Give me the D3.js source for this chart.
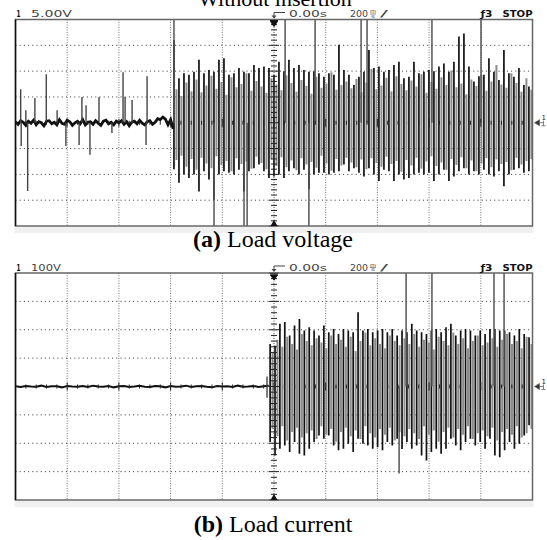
<!DOCTYPE html>
<html>
<head>
<meta charset="utf-8">
<script src="https://cdn.jsdelivr.net/npm/d3@7"></script>
<style>
  body { margin: 0; background: #fff; }
  svg { display: block; }
</style>
</head>
<body>
<div id="chart"></div>
<script>
// Oscilloscope captures: load voltage / load current, "without insertion"
// time axis in ms (200 ms/div, 10 div), trigger at 0

// ---- voltage trace (5 V/div) ----
// baseline noise before the burst, one sample every 10 ms from -1000 ms
const voltageNoise = [
  0.2, -0.3, 0.4, 0.1, -0.5, 0.3, -0.1, 0.5, -0.4, 0.2,
  0.0, -0.6, 0.3, 0.4, -0.2, 0.1, -0.4, 0.6, -0.1, -0.3,
  0.5, 0.2, -0.5, 0.0, 0.3, -0.2, 0.6, -0.4, 0.1, 0.2,
  -0.3, 0.4, -0.1, -0.5, 0.3, 0.5, -0.2, 0.1, -0.4, 0.3,
  0.0, 0.4, -0.3, 0.2, -0.6, 0.1, 0.3, -0.2, 0.5, -0.1,
  -0.4, 0.2, 0.4, -0.3, 0.1, 0.8, 0.6, 1.1, 0.7, -0.4,
  0.6, -1.2
];
// isolated spikes before the burst [ms, V]
const voltageSpikes = [
  [-980, 6.5], [-978, -4.5], [-960, 2.4], [-953, -13.2], [-925, 4.8],
  [-881, 9.4], [-839, 2.4], [-805, -4.5], [-754, -4.3], [-743, 5.0],
  [-727, 3.4], [-712, -6.2], [-677, 5.0], [-627, -2.0], [-584, 9.8],
  [-576, 5.0], [-549, 4.4], [-495, -4.3], [-491, 9.0]
];
// burst: one cycle every 19.34 ms starting at -387 ms
const voltageMax = [
  16.0, 8.6, 9.6, 9.3, 9.9, 12.2, 9.6, 10.2, 9.9, 12.2,
  12.5, 9.3, 9.6, 10.6, 9.9, 9.6, 11.2, 10.6, 10.9, 10.6,
  9.3, 11.8, 10.0, 12.2, 10.6, 11.2, 10.2, 9.9, 10.0, 9.6,
  8.9, 9.6, 9.3, 15.1, 10.2,
  9.3, 7.3, 8.9, 9.9, 14.1, 10.6, 10.9, 9.9, 10.2, 11.2,
  11.8, 8.6, 8.9, 11.8, 9.6, 9.9, 10.2, 10.0, 10.9, 11.5,
  9.9, 11.8, 16.7, 17.3, 10.9, 8.0, 9.0, 9.3, 12.5, 9.9,
  8.3, 14.1, 9.6, 8.9, 10.6, 7.3, 7.0
];
const voltageMin = [
  -9.0, -11.6, -10.0, -10.7, -10.0, -13.3, -9.4, -11.0, -14.9, -10.0,
  -9.4, -9.7, -10.0, -9.1, -13.3, -9.4, -8.8, -8.1, -9.4, -10.7,
  -10.4, -10.0, -10.7, -9.4, -8.8, -10.0, -9.1, -12.9, -10.0, -9.7,
  -9.7, -10.0, -9.7, -9.4, -8.1,
  -9.4, -8.8, -9.7, -10.4, -8.8, -10.0, -11.3, -9.1, -9.4, -11.3,
  -10.0, -11.0, -10.7, -10.0, -9.7, -10.0, -9.7, -11.3, -10.0, -9.1,
  -11.3, -10.4, -9.4, -8.8, -10.0, -9.4, -10.0, -9.1, -10.0, -10.4,
  -9.4, -12.3, -10.0, -9.1, -8.8, -9.7, -9.4
];
// the lighter half-cycle strokes between the dark ones
const voltageGrayMax = [
  6.5, 5.2, 7.8, 6.1, 8.4, 5.9, 7.2, 9.1, 6.6, 7.9,
  5.4, 8.8, 6.9, 7.5, 9.6, 6.2, 8.1, 7.0, 5.8, 8.6,
  7.4, 6.3, 9.2, 7.7, 6.0, 8.3, 7.1, 5.6, 8.9, 6.8,
  7.6, 9.8, 6.4, 7.3, 8.0, 6.7,
  8.5, 5.9, 7.8, 10.4, 6.5, 7.2, 8.7, 6.1, 9.0, 7.5,
  6.3, 8.2, 7.0, 9.4, 5.8, 7.9, 6.6, 8.8, 7.3, 10.1,
  6.9, 7.6, 5.5, 8.4, 7.1, 9.3, 6.2, 8.0, 11.2, 7.4,
  6.8, 9.6, 7.7, 6.0, 8.6, 6.4
];
const voltageGrayMin = [
  -7.2, -6.4, -8.5, -7.0, -9.1, -6.8, -7.9, -8.8, -6.5, -8.2,
  -7.4, -9.4, -6.9, -8.0, -7.5, -8.9, -6.6, -7.8, -9.0, -7.1,
  -8.4, -6.7, -8.6, -7.3, -9.2, -6.9, -8.1, -7.6, -8.7, -6.4,
  -7.9, -9.3, -7.0, -8.3, -6.8, -7.7,
  -8.6, -7.1, -9.0, -6.9, -7.8, -8.5, -6.6, -8.0, -7.4, -9.5,
  -7.2, -8.3, -6.8, -8.9, -7.5, -6.5, -8.4, -7.7, -9.1, -7.0,
  -8.2, -6.7, -8.8, -7.3, -9.4, -7.9, -6.9, -8.6, -7.1, -8.0,
  -7.6, -9.2, -6.8, -8.1, -7.4, -7.0
];
// spikes that run off screen (ms)
const voltageOffTop = [-387, 43, 159, 337, 360, 611, 801];
const voltageOffBottom = [-232, -116, -104, 135];

// ---- current trace (100 V/div as labelled on the scope) ----
// baseline noise, one sample every 20 ms from -1000 ms
const currentNoise = [
  1, -2, 2, 0, -1, 3, -2, 1, 1, -3,
  2, 0, -1, 2, -2, 3, 0, -1, 2, -3,
  1, 2, -2, 0, 3, -1, -2, 2, 1, -3,
  2, -1, 0, 3, -2, 1, 2, -1, -3, 2,
  0, 1, -2, 3, -1, 0, 2, -2, 1, 3
];
const currentSpikes = [[-27, 35], [-27, -40]];
// burst: one cycle every 18.9 ms starting at -15 ms
const currentMax = [
  150, 144, 221, 227, 180, 215, 238, 197, 209, 197,
  180, 215, 191, 203, 185, 203, 197, 191, 262, 197,
  203, 191, 197, 203, 191, 203, 180,
  197, 191, 221, 197, 191, 185, 197, 203, 191, 209,
  221, 180, 197, 203, 197, 180, 197, 185, 203, 203,
  197, 197, 191, 180, 203, 185, 174
];
const currentMin = [
  -196, -243, -219, -208, -231, -196, -237, -243, -219, -196,
  -173, -184, -173, -208, -225, -219, -202, -231, -184, -202,
  -208, -219, -214, -225, -196, -208, -184,
  -220, -196, -219, -208, -243, -261, -231, -219, -237, -219,
  -184, -208, -225, -196, -184, -208, -196, -219, -184, -243,
  -249, -225, -196, -219, -202, -173, -137
];
const currentGrayMax = [
  120, 165, 140, 175, 150, 130, 185, 160, 145, 170,
  155, 135, 180, 150, 165, 140, 175, 125, 160, 190,
  145, 170, 150, 135, 180, 160, 145,
  170, 150, 185, 140, 165, 155, 130, 175, 160, 145,
  190, 150, 170, 135, 160, 180, 145, 155, 170, 140,
  165, 185, 150, 160, 135, 175, 150
];
const currentGrayMin = [
  -150, -175, -140, -190, -160, -145, -180, -165, -155, -185,
  -140, -170, -150, -195, -160, -145, -175, -155, -185, -140,
  -165, -180, -150, -170, -145, -190, -160,
  -175, -150, -165, -185, -140, -170, -155, -195, -160, -145,
  -180, -150, -170, -140, -185, -165, -155, -175, -145, -190,
  -160, -150, -170, -140, -180, -165, -150
];
const currentOffTop = [511, 611, 851, 890];
const currentLongDown = [[484, -307]];

// ---- text ----
const titleText = 'Without insertion';
const timeLabel = '0.00s';
const timeBase = '200';

const width = 547;
const height = 540;

const svg = d3.select('#chart')
  .append('svg')
  .attr('width', width)
  .attr('height', height);

const x = d3.scaleLinear().domain([-1000, 1000]).range([15.5, 532.5]);

const SCOPE = '"DejaVu Sans", sans-serif';
const SERIF = '"Liberation Serif", "Times New Roman", serif';

// title, top half cut by the page edge (as in the source figure)
svg.append('text')
  .attr('x', 275).attr('y', 5.5)
  .attr('text-anchor', 'middle')
  .attr('font-family', SERIF)
  .attr('font-size', 22)
  .text(titleText);

// small helper for the stretched scope lettering
function scopeText(g, x0, y0, str, len, opts = {}) {
  return g.append('text')
    .attr('x', x0).attr('y', y0)
    .attr('font-family', SCOPE)
    .attr('font-size', opts.size || 8)
    .attr('font-weight', opts.bold ? 'bold' : 'normal')
    .attr('fill', opts.bold ? '#111' : '#444')
    .attr('textLength', len)
    .attr('lengthAdjust', 'spacingAndGlyphs')
    .text(str);
}

/**
 * Draws one scope screen
 */
function drawPanel(opts) {
  const { id, top, bottom, vmax } = opts;
  const y = d3.scaleLinear().domain([-vmax, vmax]).range([bottom, top]);
  const g = svg.append('g');
  const x0 = x.range()[0], x1 = x.range()[1];

  // light strip under the screen
  g.append('rect')
    .attr('x', x0 - 1).attr('y', bottom + 1)
    .attr('width', x1 - x0 + 2).attr('height', 6)
    .attr('fill', '#f0f0f0');

  // grid
  const vTicks = d3.range(-800, 801, 200).filter(d => d !== 0);
  g.append('g').selectAll('line')
    .data(vTicks)
    .join('line')
    .attr('x1', d => x(d)).attr('x2', d => x(d))
    .attr('y1', top).attr('y2', bottom)
    .attr('stroke', '#777')
    .attr('stroke-width', 1)
    .attr('stroke-dasharray', '1,1.5');

  const hTicks = d3.range(-3, 4).filter(d => d !== 0).map(d => d * vmax / 4);
  g.append('g').selectAll('line')
    .data(hTicks)
    .join('line')
    .attr('x1', x0).attr('x2', x1)
    .attr('y1', d => y(d)).attr('y2', d => y(d))
    .attr('stroke', '#333')
    .attr('stroke-width', 1)
    .attr('stroke-dasharray', '1,3.2');

  // clip waveform to the screen
  g.append('clipPath').attr('id', id)
    .append('rect')
    .attr('x', x0).attr('y', top)
    .attr('width', x1 - x0).attr('height', bottom - top);

  const w = g.append('g').attr('clip-path', `url(#${id})`);

  // baseline noise
  const line = d3.line()
    .x(d => x(d[0]))
    .y(d => y(d[1]));
  const noisePts = opts.noise.map((v, i) => [-1000 + i * opts.noiseStep, v]);
  w.append('path')
    .attr('d', line(noisePts))
    .attr('fill', 'none')
    .attr('stroke', '#111')
    .attr('stroke-width', opts.noiseWidth);

  // isolated spikes
  w.append('g').selectAll('line')
    .data(opts.spikes)
    .join('line')
    .attr('x1', d => x(d[0])).attr('x2', d => x(d[0]))
    .attr('y1', y(0)).attr('y2', d => y(d[1]))
    .attr('stroke', '#444')
    .attr('stroke-width', 1.4);

  // burst: light half cycles then dark cycles
  const gray = opts.grayMax.map((v, i) => ({
    t: opts.start + (i + 0.5) * opts.period, hi: v, lo: opts.grayMin[i]
  }));
  w.append('g').selectAll('line')
    .data(gray)
    .join('line')
    .attr('x1', d => x(d.t)).attr('x2', d => x(d.t))
    .attr('y1', d => y(d.hi)).attr('y2', d => y(d.lo))
    .attr('stroke', '#8c8c8c')
    .attr('stroke-width', 2);

  const dark = opts.max.map((v, i) => ({
    t: opts.start + i * opts.period, hi: v, lo: opts.min[i]
  }));
  w.append('g').selectAll('line')
    .data(dark)
    .join('line')
    .attr('x1', d => x(d.t)).attr('x2', d => x(d.t))
    .attr('y1', d => y(d.hi)).attr('y2', d => y(d.lo))
    .attr('stroke', '#111')
    .attr('stroke-width', 1.7);

  // spikes running off screen
  w.append('g').selectAll('line')
    .data(opts.offTop.map(t => [t, vmax * 1.2]).concat(opts.offBottom.map(t => [t, -vmax * 1.2])).concat(opts.long))
    .join('line')
    .attr('x1', d => x(d[0])).attr('x2', d => x(d[0]))
    .attr('y1', y(0)).attr('y2', d => y(d[1]))
    .attr('stroke', '#555')
    .attr('stroke-width', 1.5);

  // centre axes with ticks
  g.append('line')
    .attr('x1', x(0)).attr('x2', x(0))
    .attr('y1', top).attr('y2', bottom)
    .attr('stroke', '#555')
    .attr('stroke-dasharray', '1,1.5');
  const vMinor = d3.range(-20, 21).map(d => d * vmax / 20);
  g.append('g').selectAll('line')
    .data(vMinor)
    .join('line')
    .attr('x1', (d, i) => x(0) - (i % 5 === 0 ? 5 : 3))
    .attr('x2', (d, i) => x(0) + (i % 5 === 0 ? 5 : 3))
    .attr('y1', d => y(d)).attr('y2', d => y(d))
    .attr('stroke', '#222')
    .attr('stroke-width', 1);
  const hMinor = d3.range(-1000, 1001, 40);
  g.append('g').selectAll('line')
    .data(hMinor)
    .join('line')
    .attr('x1', d => x(d)).attr('x2', d => x(d))
    .attr('y1', (d) => y(0) - (d % 200 === 0 ? 4 : 2))
    .attr('y2', (d) => y(0) + (d % 200 === 0 ? 4 : 2))
    .attr('stroke', '#222')
    .attr('stroke-width', 1);

  // frame
  g.append('rect')
    .attr('x', x0).attr('y', top)
    .attr('width', x1 - x0).attr('height', bottom - top)
    .attr('fill', 'none')
    .attr('stroke', '#666')
    .attr('stroke-width', 1.5);
  g.append('line')
    .attr('x1', x0).attr('x2', x0).attr('y1', top).attr('y2', bottom)
    .attr('stroke', '#111').attr('stroke-width', 1.5);

  // trigger markers on the time axis
  const cx = x(0);
  g.append('path')
    .attr('d', `M${cx - 4},${top + 1}H${cx + 4}M${cx - 3.5},${top + 2}L${cx + 3.5},${top + 2}L${cx},${top + 7}Z`)
    .attr('fill', '#111').attr('stroke', '#111').attr('stroke-width', 1);
  g.append('path')
    .attr('d', `M${cx - 3.5},${bottom}L${cx + 3.5},${bottom}L${cx},${bottom - 6}Z`)
    .attr('fill', '#111');

  // ground marker on the right
  const gy = y(0);
  g.append('path')
    .attr('d', `M${x1 + 2},${gy}L${x1 + 7},${gy - 3}L${x1 + 7},${gy + 3}Z M${x1 + 7},${gy}H${x1 + 11} M${x1 + 11},${gy - 2}V${gy + 3} M${x1 + 9},${gy + 3}H${x1 + 13}`)
    .attr('fill', '#333').attr('stroke', '#666').attr('stroke-width', 0.8);
  g.append('text')
    .attr('x', x1 + 9).attr('y', gy - 3)
    .attr('font-family', SCOPE).attr('font-size', 7)
    .attr('fill', '#222')
    .text('1');

  // header line
  const hy = top - 2.5;
  scopeText(g, x0 + 1, hy, '1', 4, { bold: true, size: 8.5 });
  scopeText(g, x0 + 15.5, hy, opts.scaleLabel, opts.scaleLen);

  g.append('path')
    .attr('d', `M${cx},${top - 2}V${hy - 4.5}H${cx + 11}`)
    .attr('fill', 'none').attr('stroke', '#444').attr('stroke-width', 1);
  g.append('path')
    .attr('d', `M${cx - 2.5},${top - 4}L${cx + 2.5},${top - 4}L${cx},${top - 1}Z`)
    .attr('fill', '#444');
  scopeText(g, cx + 15, hy, timeLabel, 38);

  const tb = cx + 76;
  scopeText(g, tb, hy, timeBase, 18);
  scopeText(g, tb + 20, hy - 4, 'm', 6, { size: 5 });
  g.append('line')
    .attr('x1', tb + 20).attr('x2', tb + 26)
    .attr('y1', hy - 3).attr('y2', hy - 3)
    .attr('stroke', '#444').attr('stroke-width', 0.6);
  scopeText(g, tb + 21, hy + 0.5, 's', 4, { size: 5 });
  scopeText(g, tb + 30, hy, '/', 8);

  scopeText(g, x1 - 52, hy, 'ƒ3', 12, { bold: true, size: 9 });
  scopeText(g, x1 - 30, hy, 'STOP', 30, { bold: true, size: 9 });

  // caption
  const cap = svg.append('text')
    .attr('x', 273).attr('y', opts.captionY)
    .attr('text-anchor', 'middle')
    .attr('font-family', SERIF)
    .attr('font-size', 24);
  cap.append('tspan').attr('font-weight', 'bold').text(opts.captionTag);
  cap.append('tspan').text(' ' + opts.caption);
}

drawPanel({
  id: 'clip-v', top: 19.5, bottom: 226, vmax: 20,
  noise: voltageNoise, noiseStep: 10, noiseWidth: 2.8,
  spikes: voltageSpikes,
  start: -387, period: 19.34,
  max: voltageMax, min: voltageMin,
  grayMax: voltageGrayMax, grayMin: voltageGrayMin,
  offTop: voltageOffTop, offBottom: voltageOffBottom, long: [],
  scaleLabel: '5.00V', scaleLen: 41,
  captionY: 247, captionTag: '(a)', caption: 'Load voltage'
});

drawPanel({
  id: 'clip-i', top: 273, bottom: 500, vmax: 400,
  noise: currentNoise, noiseStep: 20, noiseWidth: 2,
  spikes: currentSpikes,
  start: -15, period: 18.9,
  max: currentMax, min: currentMin,
  grayMax: currentGrayMax, grayMin: currentGrayMin,
  offTop: currentOffTop, offBottom: [], long: currentLongDown,
  scaleLabel: '100V', scaleLen: 30,
  captionY: 532, captionTag: '(b)', caption: 'Load current'
});
</script>
</body>
</html>
